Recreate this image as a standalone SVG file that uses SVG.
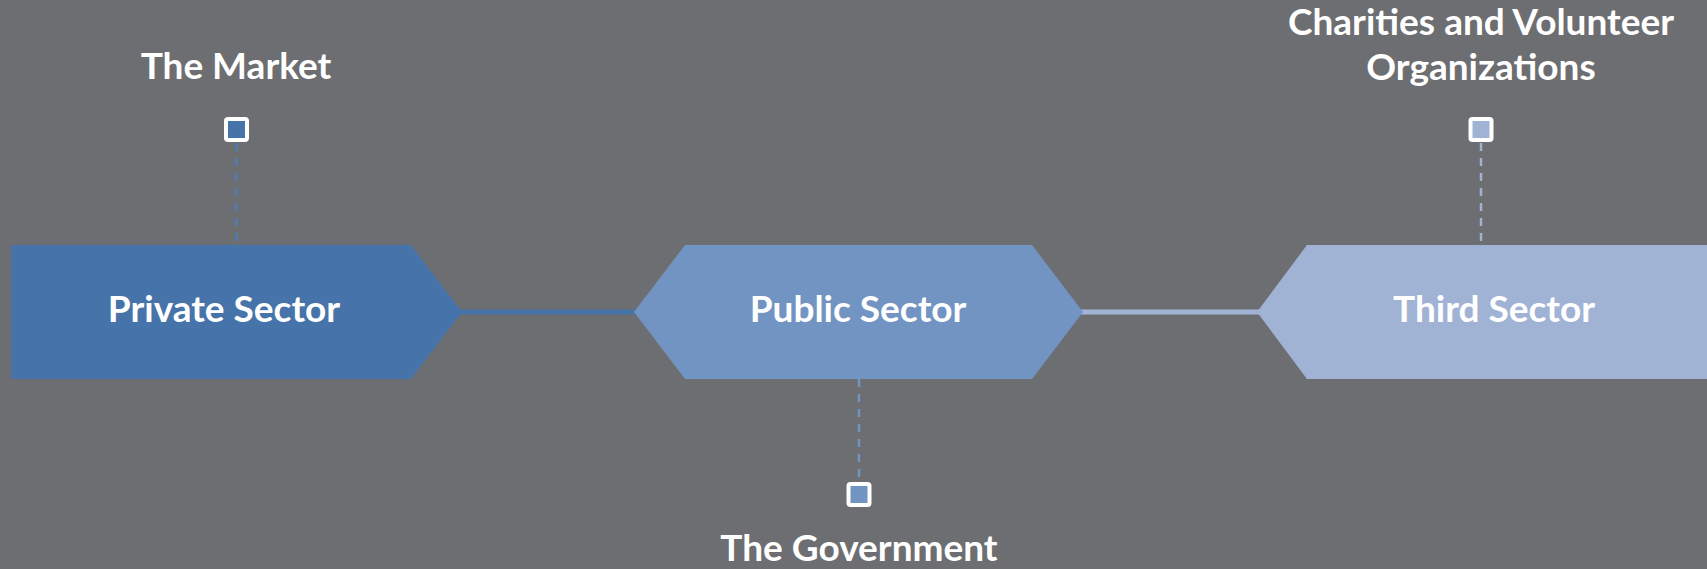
<svg xmlns="http://www.w3.org/2000/svg" width="1707" height="569" viewBox="0 0 1707 569">
<style>
.lbl{font-family:Lato,"Open Sans","Liberation Sans",sans-serif;font-weight:bold;font-size:37px;fill:#ffffff;text-anchor:middle}
.mk{stroke:#ffffff;stroke-width:4}
.dash{stroke-width:2.5;stroke-dasharray:8,7;fill:none}
</style>
<rect x="0" y="0" width="1707" height="569" fill="#6d6e71"/>
<g id="connectors">
<line x1="455" y1="312" x2="640" y2="312" stroke="#4674aa" stroke-width="5"/>
<line x1="1078" y1="312" x2="1262" y2="312" stroke="#a1b3d4" stroke-width="5"/>
<line class="dash" x1="236.5" y1="143" x2="236.5" y2="245" stroke="#4e7cb5"/>
<line class="dash" x1="859" y1="379" x2="859" y2="482" stroke="#7294c2"/>
<line class="dash" x1="1481" y1="143" x2="1481" y2="245" stroke="#a1b3d4"/>
</g>
<g id="private-sector">
<path d="M14,245 H411 L462,312 L411,379 H14 Q11,379 11,376 V248 Q11,245 14,245 Z" fill="#4674aa"/>
<text class="lbl" x="224" y="322">Private Sector</text>
</g>
<g id="public-sector">
<path d="M634,312 L685,245 H1032 L1083,312 L1032,379 H685 Z" fill="#7294c2"/>
<text class="lbl" x="858" y="322">Public Sector</text>
</g>
<g id="third-sector">
<path d="M1257,312 L1307,245 H1707 V379 H1307 Z" fill="#a1b3d4"/>
<text class="lbl" x="1494" y="322">Third Sector</text>
</g>
<g id="the-market">
<rect class="mk" x="226" y="119" width="21" height="21" rx="2" fill="#4674aa"/>
<text class="lbl" x="236" y="79">The Market</text>
</g>
<g id="the-government">
<rect class="mk" x="848.5" y="484" width="21" height="21" rx="2" fill="#7294c2"/>
<text class="lbl" x="859" y="561">The Government</text>
</g>
<g id="charities">
<rect class="mk" x="1470.5" y="119" width="21" height="21" rx="2" fill="#a1b3d4"/>
<text class="lbl" x="1481" y="35">Charities and Volunteer</text>
<text class="lbl" x="1481" y="80">Organizations</text>
</g>
</svg>
